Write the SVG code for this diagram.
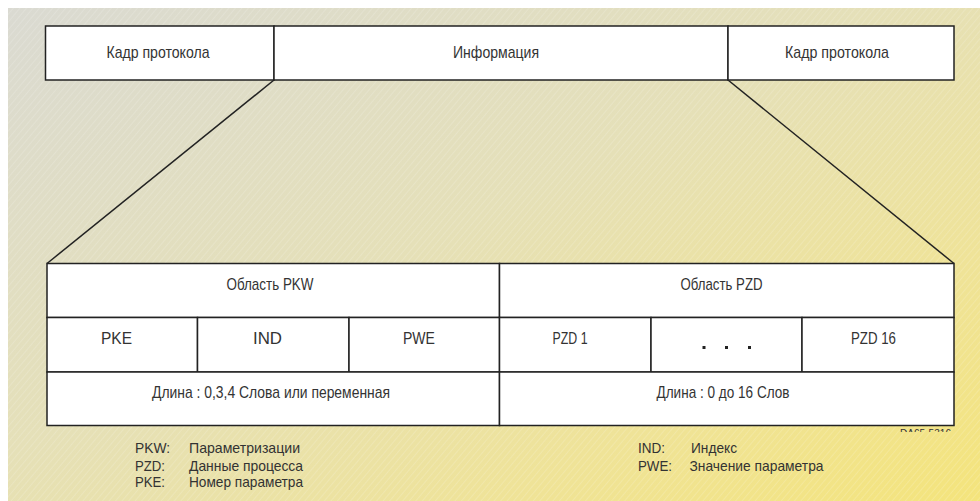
<svg xmlns="http://www.w3.org/2000/svg" width="980" height="501" viewBox="0 0 980 501">
<defs>
<linearGradient id="bg" x1="0" y1="0" x2="1" y2="1" gradientUnits="objectBoundingBox">
<stop offset="0" stop-color="#dadad2"/>
<stop offset="0.45" stop-color="#e5e0b8"/>
<stop offset="0.75" stop-color="#efe398"/>
<stop offset="1" stop-color="#f4e47c"/>
</linearGradient>
<pattern id="hatch" width="5" height="5" patternUnits="userSpaceOnUse" patternTransform="rotate(40)">
<line x1="0" y1="0" x2="0" y2="5" stroke="#ffffff" stroke-width="1" stroke-opacity="0.3"/>
</pattern>
<clipPath id="daclip"><rect x="890" y="426" width="70" height="6"/></clipPath>
</defs>
<style>
.box{fill:#ffffff;stroke:#222222;stroke-width:1.5}
.ln{stroke:#222222;stroke-width:1.5;fill:none}
.t{font-family:"Liberation Sans","DejaVu Sans",sans-serif;font-size:17px;fill:#333333;text-anchor:middle}
.lg{font-family:"Liberation Sans","DejaVu Sans",sans-serif;font-size:14.5px;fill:#333333}
.dot{fill:#222222}
</style>
<rect x="8" y="8" width="972" height="493" fill="url(#bg)"/>
<rect x="8" y="8" width="972" height="493" fill="url(#hatch)"/>

<g id="connectors">
<line class="ln" x1="274" y1="80" x2="47" y2="263.5"/>
<line class="ln" x1="728" y1="80" x2="954" y2="263.5"/>
</g>

<g id="frame-left">
<rect class="box" x="45.5" y="26" width="228.5" height="54"/>
<text class="t" x="158" y="57.5" textLength="103" lengthAdjust="spacingAndGlyphs">Кадр протокола</text>
</g>
<g id="information">
<rect class="box" x="274" y="26" width="454" height="54"/>
<text class="t" x="496" y="57.5" textLength="86" lengthAdjust="spacingAndGlyphs">Информация</text>
</g>
<g id="frame-right">
<rect class="box" x="728" y="26" width="226" height="54"/>
<text class="t" x="837" y="57.5" textLength="104" lengthAdjust="spacingAndGlyphs">Кадр протокола</text>
</g>

<g id="pkw-area">
<rect class="box" x="47" y="263.5" width="452.5" height="54"/>
<text class="t" x="270" y="289.5" textLength="87" lengthAdjust="spacingAndGlyphs">Область PKW</text>
</g>
<g id="pzd-area">
<rect class="box" x="499.5" y="263.5" width="454.5" height="54"/>
<text class="t" x="721.5" y="289.5" textLength="82" lengthAdjust="spacingAndGlyphs">Область PZD</text>
</g>
<g id="pke">
<rect class="box" x="47" y="317.5" width="150.5" height="54.5"/>
<text class="t" x="116.5" y="343.5" textLength="31" lengthAdjust="spacingAndGlyphs">PKE</text>
</g>
<g id="ind">
<rect class="box" x="197.5" y="317.5" width="151.5" height="54.5"/>
<text class="t" x="267.5" y="343.5" textLength="29" lengthAdjust="spacingAndGlyphs">IND</text>
</g>
<g id="pwe">
<rect class="box" x="349" y="317.5" width="150.5" height="54.5"/>
<text class="t" x="419" y="343.5" textLength="32" lengthAdjust="spacingAndGlyphs">PWE</text>
</g>
<g id="pzd1">
<rect class="box" x="499.5" y="317.5" width="151.5" height="54.5"/>
<text class="t" x="570" y="343.5" textLength="35" lengthAdjust="spacingAndGlyphs">PZD 1</text>
</g>
<g id="pzd-dots">
<rect class="box" x="651" y="317.5" width="151" height="54.5"/>
<rect class="dot" x="702.5" y="346" width="3" height="3"/>
<rect class="dot" x="725" y="346" width="3" height="3"/>
<rect class="dot" x="748" y="346" width="3" height="3"/>
</g>
<g id="pzd16">
<rect class="box" x="802" y="317.5" width="152" height="54.5"/>
<text class="t" x="873.5" y="343.5" textLength="45" lengthAdjust="spacingAndGlyphs">PZD 16</text>
</g>
<g id="pkw-length">
<rect class="box" x="47" y="372" width="452.5" height="53.5"/>
<text class="t" x="271" y="397.5" textLength="238" lengthAdjust="spacingAndGlyphs">Длина : 0,3,4  Слова или переменная</text>
</g>
<g id="pzd-length">
<rect class="box" x="499.5" y="372" width="454.5" height="53.5"/>
<text class="t" x="723" y="397.5" textLength="133" lengthAdjust="spacingAndGlyphs">Длина : 0 до 16 Слов</text>
</g>

<text clip-path="url(#daclip)" x="900" y="437" font-family="Liberation Sans, sans-serif" font-size="11" fill="#333333" textLength="51" lengthAdjust="spacingAndGlyphs">DA65-5316</text>

<g id="legend">
<text class="lg" x="135" y="453" textLength="35" lengthAdjust="spacingAndGlyphs">PKW:</text>
<text class="lg" x="189" y="453" textLength="111" lengthAdjust="spacingAndGlyphs">Параметризации</text>
<text class="lg" x="135" y="471" textLength="30" lengthAdjust="spacingAndGlyphs">PZD:</text>
<text class="lg" x="189" y="471" textLength="114" lengthAdjust="spacingAndGlyphs">Данные процесса</text>
<text class="lg" x="135" y="486.5" textLength="30" lengthAdjust="spacingAndGlyphs">PKE:</text>
<text class="lg" x="189" y="486.5" textLength="114" lengthAdjust="spacingAndGlyphs">Номер параметра</text>
<text class="lg" x="638" y="453" textLength="27" lengthAdjust="spacingAndGlyphs">IND:</text>
<text class="lg" x="691" y="453" textLength="46" lengthAdjust="spacingAndGlyphs">Индекс</text>
<text class="lg" x="638" y="471" textLength="34" lengthAdjust="spacingAndGlyphs">PWE:</text>
<text class="lg" x="689.5" y="471" textLength="134" lengthAdjust="spacingAndGlyphs">Значение параметра</text>
</g>
</svg>
